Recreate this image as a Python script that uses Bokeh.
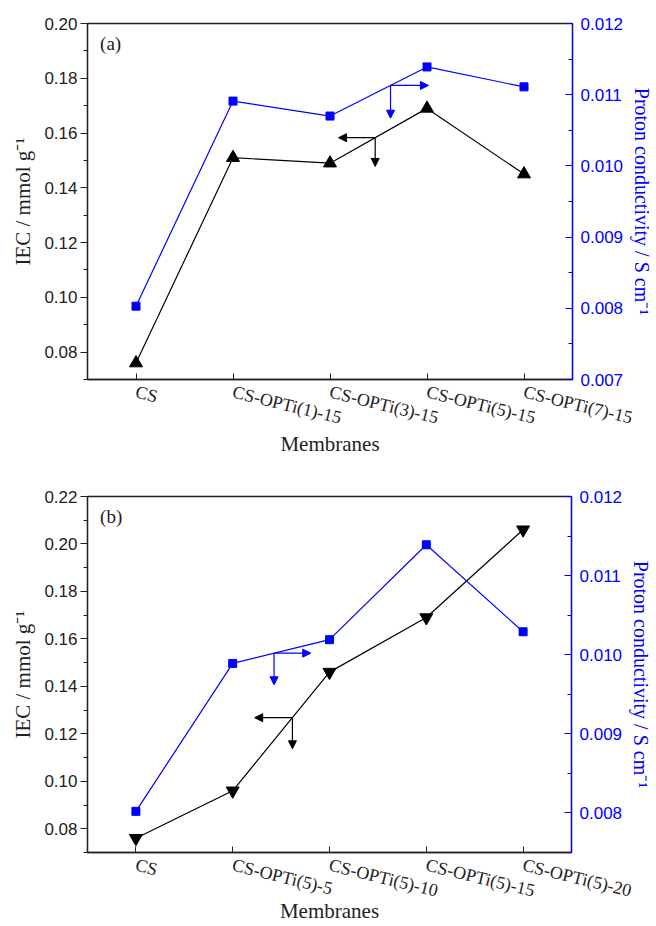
from bokeh.plotting import figure
from bokeh.models import (LinearAxis, Range1d, FixedTicker, PrintfTickFormatter,
                          Arrow, NormalHead, Label, FactorRange)
from bokeh.layouts import column
from bokeh.embed import file_html
from bokeh.resources import INLINE

# ---------------- data ----------------
categories_a = ["CS", "CS-OPTi(1)-15", "CS-OPTi(3)-15", "CS-OPTi(5)-15", "CS-OPTi(7)-15"]
iec_a = [0.076, 0.151, 0.149, 0.169, 0.145]
cond_a = [0.00803, 0.01091, 0.01070, 0.01139, 0.01111]

categories_b = ["CS", "CS-OPTi(5)-5", "CS-OPTi(5)-10", "CS-OPTi(5)-15", "CS-OPTi(5)-20"]
iec_b = [0.076, 0.096, 0.146, 0.169, 0.206]
cond_b = [0.00802, 0.00989, 0.01019, 0.01139, 0.01029]

iec_ticks_a = [0.08, 0.10, 0.12, 0.14, 0.16, 0.18, 0.20]
iec_ticks_b = [0.08, 0.10, 0.12, 0.14, 0.16, 0.18, 0.20, 0.22]
cond_ticks_a = [0.007, 0.008, 0.009, 0.010, 0.011, 0.012]
cond_ticks_b = [0.008, 0.009, 0.010, 0.011, 0.012]

# direction-indicator arrows: (corner x, corner y, horizontal tip x, vertical tip y)
arrow_black_a = (2.966, 0.1583, 2.588, 0.1478)
arrow_blue_a = (3.124, 0.01113, 3.515, 0.01067)
arrow_black_b = (2.117, 0.1268, 1.727, 0.1137)
arrow_blue_b = (1.927, 0.01002, 2.306, 0.00962)

BLUE = "#0000ff"
DARK = "#222222"
SERIF = "Liberation Serif"
SANS = "Liberation Sans"


def make_panel(cats, iec, cond, yl, yr, lticks, rticks, marker, tag, tag_y,
               ab, au, left, top, bottom, width, xlab_standoff):
    p = figure(x_range=FactorRange(*cats), y_range=Range1d(*yl),
               frame_width=width, frame_height=356,
               min_border_left=left, min_border_right=656 - left - width,
               min_border_top=top, min_border_bottom=bottom,
               output_backend="svg", toolbar_location=None)
    p.extra_y_ranges = {"cond": Range1d(*yr)}
    p.grid.visible = False
    p.outline_line_color = DARK
    p.outline_line_width = 1.3
    p.background_fill_color = "white"
    p.border_fill_color = "white"

    # left axis
    ya = p.yaxis[0]
    ya.ticker = FixedTicker(ticks=lticks,
                            minor_ticks=[round(t + 0.01, 3) for t in [lticks[0] - 0.02] + lticks])
    ya.formatter = PrintfTickFormatter(format="%.2f")
    ya.axis_label = "IEC / mmol g\u207b\u00b9"
    ya.axis_label_text_font = SERIF
    ya.axis_label_text_font_style = "normal"
    ya.axis_label_text_font_size = "21px"
    ya.axis_label_text_color = DARK
    ya.axis_label_standoff = 6
    ya.major_label_text_font = SANS
    ya.major_label_text_font_size = "17px"
    ya.major_label_text_color = DARK
    ya.major_label_standoff = 3
    ya.major_tick_out = 7
    ya.major_tick_in = 0
    ya.minor_tick_out = 4
    ya.minor_tick_in = 0
    ya.axis_line_color = DARK
    ya.axis_line_width = 1.3
    ya.major_tick_line_color = DARK
    ya.minor_tick_line_color = DARK

    # bottom axis
    xa = p.xaxis[0]
    xa.major_label_orientation = -0.24
    xa.major_label_text_font = SERIF
    xa.major_label_text_font_size = "18px"
    xa.major_label_text_color = DARK
    xa.major_label_standoff = 12
    xa.major_tick_in = 6
    xa.major_tick_out = 0
    xa.axis_line_color = DARK
    xa.axis_line_width = 1.3
    xa.major_tick_line_color = DARK
    xa.axis_label = "Membranes"
    xa.axis_label_text_font = SERIF
    xa.axis_label_text_font_style = "normal"
    xa.axis_label_text_font_size = "21px"
    xa.axis_label_text_color = DARK
    xa.axis_label_standoff = xlab_standoff

    # right axis
    ra = LinearAxis(y_range_name="cond",
                    ticker=FixedTicker(ticks=rticks,
                                       minor_ticks=[round(t + 0.0005, 4) for t in [rticks[0] - 0.001] + rticks]),
                    formatter=PrintfTickFormatter(format="%.3f"))
    ra.axis_label = "Proton conductivity / S cm\u207b\u00b9"
    ra.axis_label_text_font = SERIF
    ra.axis_label_text_font_style = "normal"
    ra.axis_label_text_font_size = "20px"
    ra.axis_label_text_color = BLUE
    ra.axis_label_standoff = 5
    ra.major_label_text_font = SANS
    ra.major_label_text_font_size = "17px"
    ra.major_label_text_color = BLUE
    ra.major_label_standoff = 8
    ra.major_tick_in = 7
    ra.major_tick_out = 0
    ra.minor_tick_in = 4
    ra.minor_tick_out = 0
    ra.axis_line_color = BLUE
    ra.axis_line_width = 1.3
    ra.major_tick_line_color = BLUE
    ra.minor_tick_line_color = BLUE
    p.add_layout(ra, "right")

    # series
    p.line(x=cats, y=iec, line_color="black", line_width=1.2)
    p.scatter(x=cats, y=iec, marker=marker, size=13, color="black")
    p.line(x=cats, y=cond, line_color=BLUE, line_width=1.2, y_range_name="cond")
    p.scatter(x=cats, y=cond, marker="square", size=8, color=BLUE, y_range_name="cond")

    # direction arrows
    cx, cy, hx, vy = ab
    for (xe, ye) in [(hx, cy), (cx, vy)]:
        p.add_layout(Arrow(x_start=cx, y_start=cy, x_end=xe, y_end=ye,
                           line_color="black", line_width=1.2,
                           end=NormalHead(size=8, fill_color="black", line_color="black")))
    cx, cy, hx, vy = au
    for (xe, ye) in [(hx, cy), (cx, vy)]:
        p.add_layout(Arrow(x_start=cx, y_start=cy, x_end=xe, y_end=ye,
                           line_color=BLUE, line_width=1.2, y_range_name="cond",
                           end=NormalHead(size=8, fill_color=BLUE, line_color=BLUE)))

    p.add_layout(Label(x=0.13, y=tag_y, text=tag, text_font=SERIF,
                       text_font_size="19px", text_baseline="top", text_color=DARK))
    return p


p1 = make_panel(categories_a, iec_a, cond_a, (0.07, 0.20), (0.007, 0.012),
                iec_ticks_a, cond_ticks_a, "triangle", "(a)", 0.1964,
                arrow_black_a, arrow_blue_a, 85, 23, 80, 485, -8)
p2 = make_panel(categories_b, iec_b, cond_b, (0.07, 0.22), (0.0075, 0.012),
                iec_ticks_b, cond_ticks_b, "inverted_triangle", "(b)", 0.2158,
                arrow_black_b, arrow_blue_b, 87, 37, 70, 484, -14)

layout = column(p1, p2, spacing=0)
open("out.html", "w").write(file_html(layout, INLINE))
